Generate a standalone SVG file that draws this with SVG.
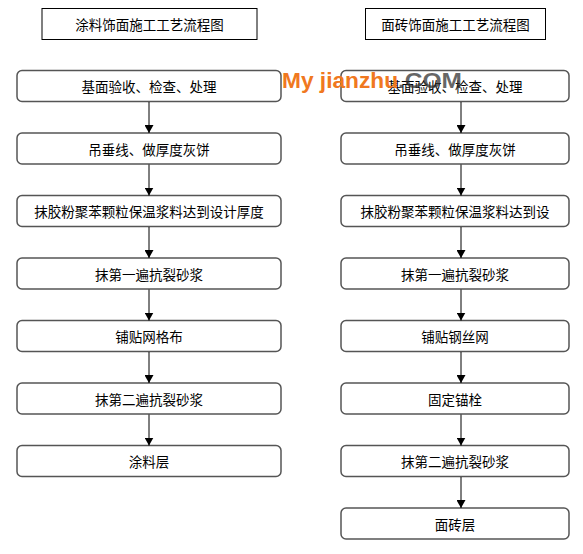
<svg xmlns="http://www.w3.org/2000/svg" width="583" height="554" viewBox="0 0 583 554">
<style>
.title{fill:#fff;stroke:#000;stroke-width:1}
.node{fill:#fff;stroke:#555;stroke-width:1.5}
text{font-family:"Noto Sans CJK SC","Liberation Sans",sans-serif;font-size:13.5px;fill:#000;text-anchor:middle;dominant-baseline:central}
.conn line{stroke:#000;stroke-width:1}
.wm{font-family:"Liberation Sans",Arial,sans-serif;font-weight:bold;font-size:22px;text-anchor:start;dominant-baseline:alphabetic}
</style>
<defs>
<marker id="ah" markerWidth="8" markerHeight="9" refX="8" refY="4.5" orient="auto" markerUnits="userSpaceOnUse">
<path d="M0,0 L8,4.5 L0,9 Z" fill="#000"/>
</marker>
</defs>
<rect width="583" height="554" fill="#fff"/>
<g id="title-left"><rect class="title" x="42" y="8.5" width="215" height="31"/><text x="149.5" y="24">涂料饰面施工工艺流程图</text></g>
<g id="title-right"><rect class="title" x="365.5" y="8.5" width="180" height="31"/><text x="455.5" y="24">面砖饰面施工工艺流程图</text></g>

<g id="L1"><rect class="node" x="17" y="70.5" width="264" height="31" rx="5"/><text x="149" y="86">基面验收、检查、处理</text></g>
<g id="L2"><rect class="node" x="17" y="133" width="264" height="31" rx="5"/><text x="149" y="148.5">吊垂线、做厚度灰饼</text></g>
<g id="L3"><rect class="node" x="17" y="195.5" width="264" height="31" rx="5"/><text x="149" y="211">抹胶粉聚苯颗粒保温浆料达到设计厚度</text></g>
<g id="L4"><rect class="node" x="17" y="258" width="264" height="31" rx="5"/><text x="149" y="273.5">抹第一遍抗裂砂浆</text></g>
<g id="L5"><rect class="node" x="17" y="320.5" width="264" height="31" rx="5"/><text x="149" y="336">铺贴网格布</text></g>
<g id="L6"><rect class="node" x="17" y="383" width="264" height="31" rx="5"/><text x="149" y="398.5">抹第二遍抗裂砂浆</text></g>
<g id="L7"><rect class="node" x="17" y="445.5" width="264" height="31" rx="5"/><text x="149" y="461">涂料层</text></g>

<g id="R1"><rect class="node" x="341" y="70.5" width="228" height="31" rx="5"/><text x="455" y="86">基面验收、检查、处理</text></g>
<g id="R2"><rect class="node" x="341" y="133" width="228" height="31" rx="5"/><text x="455" y="148.5">吊垂线、做厚度灰饼</text></g>
<g id="R3"><rect class="node" x="341" y="195.5" width="228" height="31" rx="5"/><text x="455" y="211">抹胶粉聚苯颗粒保温浆料达到设</text></g>
<g id="R4"><rect class="node" x="341" y="258" width="228" height="31" rx="5"/><text x="455" y="273.5">抹第一遍抗裂砂浆</text></g>
<g id="R5"><rect class="node" x="341" y="320.5" width="228" height="31" rx="5"/><text x="455" y="336">铺贴钢丝网</text></g>
<g id="R6"><rect class="node" x="341" y="383" width="228" height="31" rx="5"/><text x="455" y="398.5">固定锚栓</text></g>
<g id="R7"><rect class="node" x="341" y="445.5" width="228" height="31" rx="5"/><text x="455" y="461">抹第二遍抗裂砂浆</text></g>
<g id="R8"><rect class="node" x="341" y="508" width="228" height="31" rx="5"/><text x="455" y="523.5">面砖层</text></g>

<g class="conn" id="connectors">
<line x1="149" y1="102" x2="149" y2="133" marker-end="url(#ah)"/>
<line x1="149" y1="164.5" x2="149" y2="195.5" marker-end="url(#ah)"/>
<line x1="149" y1="227" x2="149" y2="258" marker-end="url(#ah)"/>
<line x1="149" y1="289.5" x2="149" y2="320.5" marker-end="url(#ah)"/>
<line x1="149" y1="352" x2="149" y2="383" marker-end="url(#ah)"/>
<line x1="149" y1="414.5" x2="149" y2="445.5" marker-end="url(#ah)"/>
<line x1="461" y1="102" x2="461" y2="133" marker-end="url(#ah)"/>
<line x1="461" y1="164.5" x2="461" y2="195.5" marker-end="url(#ah)"/>
<line x1="461" y1="227" x2="461" y2="258" marker-end="url(#ah)"/>
<line x1="461" y1="289.5" x2="461" y2="320.5" marker-end="url(#ah)"/>
<line x1="461" y1="352" x2="461" y2="383" marker-end="url(#ah)"/>
<line x1="461" y1="414.5" x2="461" y2="445.5" marker-end="url(#ah)"/>
<line x1="461" y1="477" x2="461" y2="508" marker-end="url(#ah)"/>
</g>

<g id="watermark">
<text class="wm" x="282" y="88" fill="#f07820" style="fill:#f07820" textLength="116" lengthAdjust="spacingAndGlyphs">My jianzhu</text>
<text class="wm" x="398" y="88" style="fill:#333;fill-opacity:0.75" textLength="64" lengthAdjust="spacingAndGlyphs">.COM</text>
</g>
</svg>
